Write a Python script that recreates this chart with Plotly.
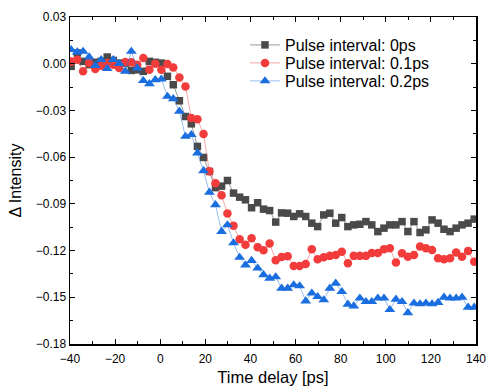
import plotly.graph_objects as go

time_ps = [-39.5, -36.8, -34.2, -31.5, -28.8, -26.2, -23.5, -20.8, -18.2, -15.5,
           -12.8, -10.2, -7.5, -4.8, -2.2, 0.5, 3.2, 5.8, 8.5, 11.2,
           13.8, 16.5, 19.2, 21.8, 24.5, 27.2, 29.8, 32.5, 35.2, 37.8,
           40.5, 43.2, 45.8, 48.5, 51.2, 53.8, 56.5, 59.2, 61.8, 64.5,
           67.2, 69.8, 72.5, 75.2, 77.8, 80.5, 83.2, 85.8, 88.5, 91.2,
           93.8, 96.5, 99.2, 101.8, 104.5, 107.2, 109.8, 112.5, 115.2, 117.8,
           120.5, 123.2, 125.8, 128.5, 131.2, 133.8, 136.5, 139.2]

pulse_0ps = [-0.0017, 0.0069, 0.0015, -0.0006, 0.0009, 0.0015, 0.0043, 0.0021, 0.0004, 0.0004,
             -0.0043, -0.0039, -0.0049, 0.0015, 0.0009, 0.0004, -0.0081, -0.0135, -0.0238, -0.0339,
             -0.0386, -0.0531, -0.0602, -0.0692, -0.0796, -0.0786, -0.0750, -0.0831, -0.0857, -0.0874,
             -0.0925, -0.0893, -0.0934, -0.0943, -0.1017, -0.0958, -0.0960, -0.0981, -0.0964, -0.0981,
             -0.1024, -0.1046, -0.0971, -0.0960, -0.1024, -0.0988, -0.1046, -0.1035, -0.1031, -0.1014,
             -0.1035, -0.1078, -0.1056, -0.1035, -0.1035, -0.1014, -0.1078, -0.1014, -0.1084, -0.1067,
             -0.1003, -0.1024, -0.1063, -0.1078, -0.1056, -0.1035, -0.1024, -0.0998]

pulse_01ps = [0.0015, 0.0026, -0.0049, 0.0004, -0.0034, -0.0013, 0.0004, -0.0006, -0.0028, 0.0011,
              0.0009, -0.0006, 0.0036, -0.0039, 0.0000, -0.0039, -0.0002, -0.0024, -0.0088, -0.0146,
              -0.0349, -0.0356, -0.0452, -0.0690, -0.0767, -0.0845, -0.0962, -0.1041, -0.1127, -0.1162,
              -0.1121, -0.1178, -0.1198, -0.1155, -0.1262, -0.1241, -0.1237, -0.1299, -0.1299, -0.1286,
              -0.1191, -0.1256, -0.1243, -0.1234, -0.1228, -0.1207, -0.1281, -0.1234, -0.1234, -0.1234,
              -0.1215, -0.1215, -0.1191, -0.1185, -0.1277, -0.1217, -0.1239, -0.1228, -0.1174, -0.1185,
              -0.1196, -0.1249, -0.1256, -0.1249, -0.1213, -0.1239, -0.1202, -0.1271]

pulse_02ps = [0.0090, 0.0075, 0.0079, 0.0043, -0.0013, 0.0026, -0.0032, 0.0026, 0.0000, -0.0049,
              0.0079, -0.0028, -0.0109, -0.0129, -0.0103, -0.0099, -0.0210, -0.0225, -0.0306, -0.0467,
              -0.0456, -0.0574, -0.0688, -0.0826, -0.0906, -0.1078, -0.1035, -0.1151, -0.1244, -0.1293,
              -0.1264, -0.1313, -0.1356, -0.1378, -0.1369, -0.1442, -0.1442, -0.1421, -0.1427, -0.1524,
              -0.1474, -0.1496, -0.1517, -0.1442, -0.1410, -0.1464, -0.1545, -0.1556, -0.1506, -0.1528,
              -0.1528, -0.1506, -0.1506, -0.1580, -0.1513, -0.1528, -0.1600, -0.1538, -0.1543, -0.1538,
              -0.1543, -0.1534, -0.1500, -0.1506, -0.1506, -0.1500, -0.1564, -0.1564]

series_names = ["Pulse interval: 0ps", "Pulse interval: 0.1ps", "Pulse interval: 0.2ps"]

FONT = "Liberation Sans, Arial, sans-serif"

fig = go.Figure()
styles = [
    (pulse_0ps, "#4a4a4a", "rgba(74,74,74,0.55)", "square", 7.5, "legend"),
    (pulse_01ps, "#f23c3c", "rgba(242,60,60,0.45)", "circle", 8.5, "legend2"),
    (pulse_02ps, "#1a6ee0", "rgba(26,110,224,0.45)", "triangle-up", 9.5, "legend3"),
]
for name, (vals, mcol, lcol, sym, size, leg) in zip(series_names, styles):
    fig.add_trace(go.Scatter(
        x=time_ps, y=vals, name=name, mode="lines+markers",
        line=dict(color=lcol, width=1),
        marker=dict(symbol=sym, size=size, color=mcol, line=dict(width=0)),
        legend=leg, showlegend=True,
    ))

axis_common = dict(
    showline=True, linecolor="black", linewidth=1.5, mirror="ticks",
    ticks="inside", ticklen=5, tickwidth=1, tickcolor="black",
    showgrid=False, zeroline=False, automargin=False,
    tickfont=dict(family=FONT, size=12, color="black"),
)

fig.update_xaxes(
    range=[-40, 140], dtick=20, tick0=-40, ticklabelstandoff=3,
    minor=dict(ticks="inside", ticklen=3, dtick=10, tickcolor="black", showgrid=False),
    title=dict(text="Time delay [ps]", font=dict(family=FONT, size=16.5, color="black"), standoff=6),
    **axis_common,
)
fig.update_yaxes(
    range=[-0.18, 0.03], dtick=0.03, tick0=0, tickformat=".2f",
    minor=dict(ticks="inside", ticklen=3, dtick=0.015, tickcolor="black", showgrid=False),
    title=dict(text="Δ Intensity", font=dict(family=FONT, size=16, color="black"), standoff=10),
    **axis_common,
)

# plot area spans y from 17 to 344 px; legend rows centred at 45, 63, 81 px
def legend_box(ycenter):
    return dict(
        x=0.431, y=ycenter, xanchor="left", yanchor="middle",
        bgcolor="rgba(0,0,0,0)", borderwidth=0,
        font=dict(family=FONT, size=16, color="black"),
        itemwidth=30, visible=True,
    )

fig.update_layout(
    width=487, height=387,
    margin=dict(l=70, r=11, t=17, b=43),
    plot_bgcolor="white", paper_bgcolor="white",
    showlegend=True,
    legend=legend_box(0.9144),
    legend2=legend_box(0.8593),
    legend3=legend_box(0.8043),
)

fig.write_html(
    "out.html",
    config={"displayModeBar": False, "staticPlot": True},
    post_script="document.body.style.margin='0';document.body.style.overflow='hidden';",
)
